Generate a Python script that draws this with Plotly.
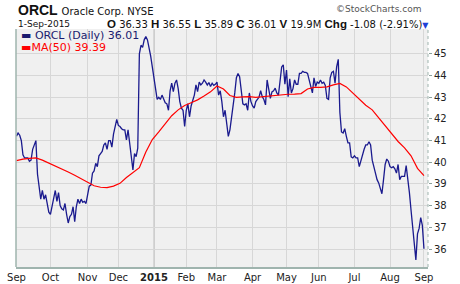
import pandas as pd
import plotly.graph_objects as go

# ---------------- data ----------------
holidays = ["2014-11-27", "2014-12-25", "2015-01-01", "2015-01-19",
            "2015-02-16", "2015-04-03", "2015-05-25", "2015-07-03"]

close_sep14 = [41.20, 41.35, 41.25, 41.00, 40.35, 40.20, 40.20, 40.20, 40.05, 40.10, 40.60,
               40.80, 41.00, 39.45, 38.95, 38.30, 38.70, 38.30, 38.50, 38.00, 37.70]
close_oct14 = [37.60, 38.00, 38.30, 38.70, 38.20, 38.60, 38.00, 37.85, 37.80, 38.10, 37.60, 37.20,
               37.50, 37.60, 37.95, 37.26, 37.95, 38.30, 38.10, 38.30, 38.15, 38.20, 38.10]
close_nov14 = [38.60, 38.90, 38.95, 39.50, 39.60, 39.95, 39.80, 40.30, 40.40, 40.50, 40.80, 40.90,
               40.60, 41.00, 41.00, 40.70, 41.30, 41.65, 41.98]
close_dec14 = [41.70, 41.65, 41.55, 41.50, 41.50, 41.03, 41.50, 40.80, 40.40, 39.65, 40.40, 40.26,
               40.65, 45.00, 45.40, 45.30, 45.65, 45.80, 45.65, 45.30, 44.90, 44.40]
close_jan15 = [43.90, 43.20, 42.90, 43.00, 42.90, 43.10, 42.95, 42.75, 42.70, 42.40, 43.30, 43.65,
               43.26, 43.65, 43.80, 43.40, 42.80, 42.50, 42.40, 41.65]
close_feb15 = [42.40, 42.70, 42.10, 42.60, 42.85, 43.10, 43.57, 43.26, 43.70, 43.57, 43.65, 43.80,
               43.70, 43.57, 43.68, 43.50, 43.65, 43.55, 43.60]
close_mar15 = [43.70, 43.10, 43.30, 42.80, 42.10, 42.40, 41.80, 41.20, 41.50, 42.00, 42.70, 43.20,
               43.90, 44.10, 43.95, 43.30, 42.70, 42.65, 42.70, 42.40, 43.20, 42.80]
close_apr15 = [42.60, 42.50, 42.80, 42.90, 43.00, 43.30, 43.03, 42.90, 42.65, 43.80, 43.30, 42.95,
               43.25, 43.30, 43.42, 43.20, 43.10, 43.80, 44.40, 44.50, 43.60]
close_may15 = [44.26, 43.03, 43.85, 43.20, 43.40, 43.80, 43.60, 43.60, 44.10, 44.10, 44.20, 44.15,
               44.15, 44.10, 43.80, 43.50, 43.20, 43.90, 43.50, 43.70]
close_jun15 = [43.65, 43.80, 43.65, 43.70, 43.55, 42.95, 42.90, 43.90, 44.15, 44.20, 43.65, 44.40,
               44.75, 42.30, 41.40, 41.35, 41.55, 41.20, 40.90, 40.90, 40.25, 40.20]
close_jul15 = [40.30, 40.20, 40.20, 39.80, 40.10, 40.40, 40.60, 40.80, 40.80, 40.95, 40.80, 40.10,
               39.85, 39.50, 39.20, 39.05, 38.80, 38.55, 39.20, 39.90, 40.15, 40.05]
close_aug15 = [39.80, 39.75, 39.80, 39.70, 39.50, 39.90, 39.20, 39.35, 39.35, 39.35, 39.85, 39.30,
               38.60, 37.80, 36.90, 36.00, 35.50, 36.70, 36.95, 37.45, 37.09]
close_sep15 = [36.01]

# MA(50), one value every 4th session
ma50_every4 = [40.08, 40.15, 40.18, 40.20, 40.10, 39.97, 39.82, 39.68, 39.55, 39.40, 39.25,
               39.07, 38.92, 38.85, 38.83, 38.90, 39.03, 39.30, 39.53, 39.75, 40.48, 41.05,
               41.40, 41.80, 42.15, 42.42, 42.62, 42.75, 42.88, 43.06, 43.25, 43.52, 43.38,
               43.08, 43.00, 43.02, 43.03, 43.00, 43.03, 43.07, 43.10, 43.10, 43.14, 43.15,
               43.17, 43.38, 43.46, 43.46, 43.48, 43.57, 43.64, 43.48, 43.20, 42.88, 42.63,
               42.42, 42.05, 41.66, 41.28, 40.96, 40.67, 40.30, 39.72, 39.39]

month_labels = ["Sep", "Oct", "Nov", "Dec", "<b>2015</b>", "Feb", "Mar", "Apr",
                "May", "Jun", "Jul", "Aug", "Sep"]
y_ticks = [36, 37, 38, 39, 40, 41, 42, 43, 44, 45]

# ---------------- build ----------------
sessions = [d for d in pd.bdate_range("2014-09-02", "2015-09-01")
            if d.strftime("%Y-%m-%d") not in holidays]
close = (close_sep14 + close_oct14 + close_nov14 + close_dec14 + close_jan15 + close_feb15 +
         close_mar15 + close_apr15 + close_may15 + close_jun15 + close_jul15 + close_aug15 +
         close_sep15)
n = len(sessions)
xs = list(range(n))
ma_x = xs[::4][:len(ma50_every4)]

month_starts = [i for i in range(n) if i == 0 or sessions[i].month != sessions[i - 1].month]

FONT = "DejaVu Sans"
BOLD = "<span style='font-family:Liberation Sans;font-size:11.5px'><b>{}</b></span>"
fig = go.Figure()
fig.add_trace(go.Scatter(x=xs, y=close, mode="lines",
                         line=dict(color="#1a1a8e", width=1.3), hoverinfo="skip"))
fig.add_trace(go.Scatter(x=ma_x, y=ma50_every4, mode="lines",
                         line=dict(color="#ff0000", width=1.2), hoverinfo="skip"))

grid = "#d7d7d7"
axcol = "#9fb4ae"
fig.update_layout(
    width=460, height=284,
    margin=dict(l=16, r=32, t=29, b=17),
    paper_bgcolor="white", plot_bgcolor="#f0f0f0",
    showlegend=False,
    font=dict(family=FONT, size=10, color="#222"),
    xaxis=dict(range=[-0.3, 254.5], tickmode="array", tickvals=month_starts,
               ticktext=month_labels, showgrid=True, gridcolor=grid, gridwidth=1,
               zeroline=False, showline=True, linecolor=axcol, linewidth=1.5,
               ticks="", automargin=False,
               tickfont=dict(family=FONT, size=10, color="#222")),
    yaxis=dict(side="right", range=[35.17, 46.15], tickmode="array", tickvals=y_ticks,
               showgrid=True, gridcolor=grid, gridwidth=1, zeroline=False, showline=False,
               ticks="outside", ticklen=3, tickcolor="#8aa09a", automargin=False,
               tickfont=dict(family=FONT, size=10, color="#222")),
    shapes=[
        dict(type="line", xref="x", yref="paper", x0=month_starts[4], x1=month_starts[4],
             y0=0, y1=1, line=dict(color="#b4b4b4", width=1.3), layer="below"),
        dict(type="line", xref="paper", yref="paper", x0=0, x1=0, y0=0, y1=1,
             line=dict(color=axcol, width=1.5)),
        dict(type="line", xref="paper", yref="paper", x0=1, x1=1, y0=0, y1=1,
             line=dict(color=axcol, width=1, dash="dot")),
    ],
    annotations=[
        dict(xref="paper", yref="paper", x=0, y=1.078, xanchor="left", yanchor="middle",
             showarrow=False,
             text="<b>ORCL</b> <span style='font-family:DejaVu Sans;font-size:10px'>Oracle Corp. NYSE</span>",
             font=dict(family="Liberation Sans", size=14, color="#111")),
        dict(xref="paper", yref="paper", x=0, y=1.021, xanchor="left", yanchor="middle",
             showarrow=False, text="1-Sep-2015",
             font=dict(family=FONT, size=9, color="#111")),
        dict(xref="paper", yref="paper", x=1.007, y=1.021, xanchor="right", yanchor="middle",
             showarrow=False,
             text=(BOLD.format("O") + " 36.33 " + BOLD.format("H") + " 36.55 " +
                   BOLD.format("L") + " 35.89 " + BOLD.format("C") + " 36.01 " +
                   BOLD.format("V") + " 19.9M " + BOLD.format("Chg") + " -1.08 (-2.91%)" +
                   "<span style='color:#1f3fd8;font-size:8px'>▼</span>"),
             font=dict(family=FONT, size=10, color="#111")),
        dict(xref="paper", yref="paper", x=0.988, y=1.083, xanchor="right", yanchor="middle",
             showarrow=False, text="©StockCharts.com",
             font=dict(family=FONT, size=9, color="#555")),
        dict(xref="paper", yref="paper", x=0.008, y=0.972, xanchor="left", yanchor="middle",
             showarrow=False, text="▬ ORCL (Daily) 36.01",
             font=dict(family=FONT, size=11, color="#1a1a6e")),
        dict(xref="paper", yref="paper", x=0.008, y=0.922, xanchor="left", yanchor="middle",
             showarrow=False, text="▬<span style='color:#ff0000'>MA(50) 39.39</span>",
             font=dict(family=FONT, size=11, color="#ff0000")),
    ],
)

fig.write_html("out.html")
